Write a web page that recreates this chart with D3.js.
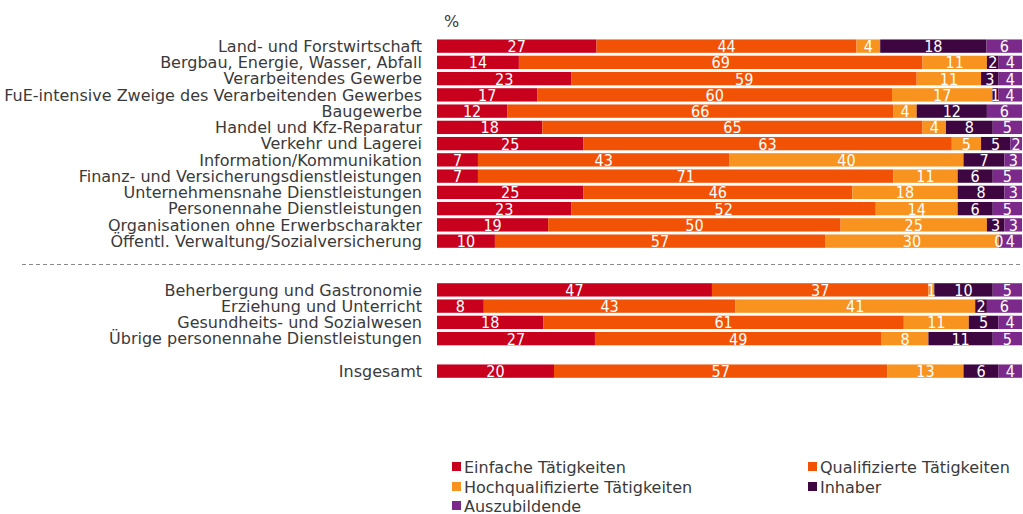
<!DOCTYPE html>
<html>
<head>
<meta charset="utf-8">
<script src="https://cdn.jsdelivr.net/npm/d3@7"></script>
<style>
    body { margin: 0; background: #fff; }
    svg { display: block; }
    .cat-label { font-family: "DejaVu Sans", Verdana, sans-serif; font-size: 16px; fill: #3a3a3a; }
    .seg-label { font-family: "Liberation Sans Narrow", "DejaVu Sans Condensed", sans-serif; font-size: 16px; fill: #fff; }
    .legend-text { font-family: "DejaVu Sans", Verdana, sans-serif; font-size: 16px; fill: #3a3a3a; }
</style>
</head>
<body>
<div id="chart"></div>
<script>
// Kategorien (Wirtschaftszweige) und ihre Position (Slot) in der Liste
const categories = [
    "Land- und Forstwirtschaft",
    "Bergbau, Energie, Wasser, Abfall",
    "Verarbeitendes Gewerbe",
    "FuE-intensive Zweige des Verarbeitenden Gewerbes",
    "Baugewerbe",
    "Handel und Kfz-Reparatur",
    "Verkehr und Lagerei",
    "Information/Kommunikation",
    "Finanz- und Versicherungsdienstleistungen",
    "Unternehmensnahe Dienstleistungen",
    "Personennahe Dienstleistungen",
    "Organisationen ohne Erwerbscharakter",
    "Öffentl. Verwaltung/Sozialversicherung",
    "Beherbergung und Gastronomie",
    "Erziehung und Unterricht",
    "Gesundheits- und Sozialwesen",
    "Übrige personennahe Dienstleistungen",
    "Insgesamt"
];
const slots = [0, 1, 2, 3, 4, 5, 6, 7, 8, 9, 10, 11, 12, 15, 16, 17, 18, 20];

const seriesNames = [
    "Einfache Tätigkeiten",
    "Qualifizierte Tätigkeiten",
    "Hochqualifizierte Tätigkeiten",
    "Inhaber",
    "Auszubildende"
];

// Anteile in %
const einfach     = [27, 14, 23, 17, 12, 18, 25,  7,  7, 25, 23, 19, 10, 47,  8, 18, 27, 20];
const qualifiziert= [44, 69, 59, 60, 66, 65, 63, 43, 71, 46, 52, 50, 57, 37, 43, 61, 49, 57];
const hochqual    = [ 4, 11, 11, 17,  4,  4,  5, 40, 11, 18, 14, 25, 30,  1, 41, 11,  8, 13];
const inhaber     = [18,  2,  3,  1, 12,  8,  5,  7,  6,  8,  6,  3,  0, 10,  2,  5, 11,  6];
const azubis      = [ 6,  4,  4,  4,  6,  5,  2,  3,  5,  3,  5,  3,  4,  5,  6,  4,  5,  4];

const COLORS = ["#c8001e", "#f15206", "#f7931e", "#3e0640", "#7b2a8b"];

const W = 1023, H = 514;

const rows = categories.map((c, i) => ({
    cat: c,
    slot: slots[i],
    vals: [einfach[i], qualifiziert[i], hochqual[i], inhaber[i], azubis[i]]
}));

const svg = d3.select("#chart").append("svg")
    .attr("width", W)
    .attr("height", H);

const xScale = d3.scaleLinear().domain([0, 100]).range([437, 1022]);
const yScale = d3.scaleBand()
    .domain(d3.range(21))
    .range([38, 38 + 21 * 16.25])
    .paddingInner(0.18)
    .paddingOuter(0.09);

// "%" Einheit
svg.append("text")
    .attr("class", "cat-label")
    .attr("x", 444)
    .attr("y", 27)
    .text("%");

// Kategorienbeschriftung
svg.selectAll(".cat-label.row")
    .data(rows)
    .join("text")
    .attr("class", "cat-label row")
    .attr("x", 422)
    .attr("y", d => yScale(d.slot) + yScale.bandwidth() / 2)
    .attr("dy", "0.36em")
    .attr("text-anchor", "end")
    .text(d => d.cat);

// gestapelte Segmente, je Zeile auf 100 % normiert (Rundungsdifferenzen)
const segs = [];
rows.forEach(r => {
    const total = d3.sum(r.vals);
    let acc = 0;
    r.vals.forEach((v, k) => {
        segs.push({ slot: r.slot, k: k, v: v, x0: acc / total * 100, x1: (acc + v) / total * 100 });
        acc += v;
    });
});

svg.append("g")
    .selectAll("rect")
    .data(segs)
    .join("rect")
    .attr("x", d => xScale(d.x0))
    .attr("y", d => yScale(d.slot))
    .attr("width", d => xScale(d.x1) - xScale(d.x0))
    .attr("height", yScale.bandwidth())
    .attr("fill", d => COLORS[d.k]);

svg.append("g")
    .selectAll("text")
    .data(segs)
    .join("text")
    .attr("class", "seg-label")
    .attr("x", d => (xScale(d.x0) + xScale(d.x1)) / 2)
    .attr("y", d => yScale(d.slot) + yScale.bandwidth() / 2)
    .attr("dy", "0.38em")
    .attr("text-anchor", "middle")
    .text(d => d.v);

// gestrichelte Trennlinie
const sepY = (yScale(12) + yScale.bandwidth() + yScale(15)) / 2 - 1;
svg.append("line")
    .attr("x1", 22)
    .attr("x2", W)
    .attr("y1", sepY)
    .attr("y2", sepY)
    .attr("stroke", "#8a8a8a")
    .attr("stroke-width", 1)
    .attr("stroke-dasharray", "4,3");

// Legende
const legendPos = [
    { x: 452, y: 467 }, { x: 808, y: 467 },
    { x: 452, y: 487 }, { x: 808, y: 487 },
    { x: 452, y: 506 }
];
const legend = svg.append("g")
    .selectAll("g")
    .data(seriesNames)
    .join("g")
    .attr("transform", (d, i) => `translate(${legendPos[i].x}, ${legendPos[i].y})`);

legend.append("rect")
    .attr("x", 0)
    .attr("y", -5)
    .attr("width", 9)
    .attr("height", 9)
    .attr("fill", (d, i) => COLORS[i]);

legend.append("text")
    .attr("class", "legend-text")
    .attr("x", 12)
    .attr("y", 0)
    .attr("dy", "0.36em")
    .text(d => d);
</script>
</body>
</html>
